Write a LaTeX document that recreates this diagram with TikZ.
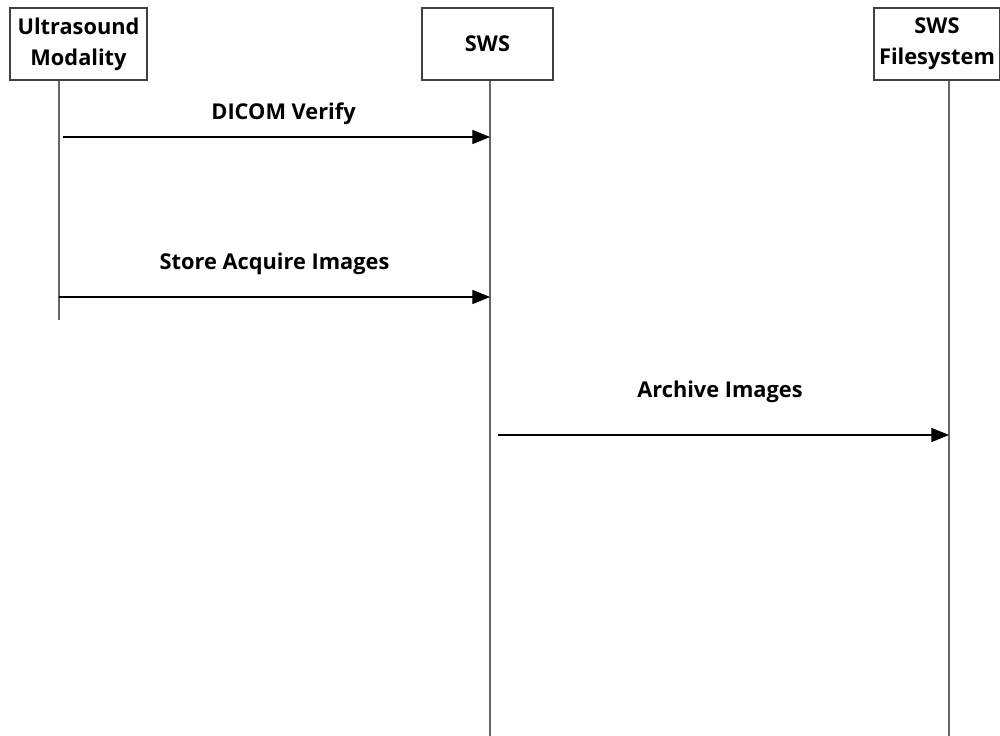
\documentclass[tikz,border=0pt]{standalone}
\usepackage{fontspec}
\setmainfont{Open Sans}
\usetikzlibrary{arrows.meta}
\begin{document}
\begin{tikzpicture}[x=0.02cm, y=-0.02cm, >={Triangle[length=10pt,width=8pt]},
    font=\fontsize{12.4}{17.5}\selectfont\bfseries,
    participant/.style={draw=black!75, line width=0.6pt, align=center, inner sep=0pt},
    lifeline/.style={draw=black!60, line width=0.6pt},
    message/.style={->, line width=0.6pt}]
  \useasboundingbox (0,0) rectangle (1000,736);
  % Participants (boxes)
  \node[participant, minimum width=2.74cm, minimum height=1.44cm] (us) at (78.5,44) {Ultrasound\\Modality};
  \node[participant, minimum width=2.62cm, minimum height=1.44cm] (sws) at (487.5,44) {SWS};
  \node[participant, minimum width=2.52cm, minimum height=1.44cm] (fs) at (937,44) {SWS\\Filesystem};
  % Lifelines (vertical)
  \coordinate (us-end) at (59,320);
  \coordinate (sws-end) at (490,736);
  \coordinate (fs-end) at (949,736);
  \draw[lifeline] (us.south -| us-end) -- (us-end);
  \draw[lifeline] (sws.south -| sws-end) -- (sws-end);
  \draw[lifeline] (fs.south -| fs-end) -- (fs-end);
  % Messages
  \coordinate (verify) at (63,137);
  \coordinate (store) at (59,297);
  \coordinate (archive) at (498,435);
  \draw[message] (verify) -- (verify -| sws-end)
    node[midway, xshift=4pt, yshift=13pt] {DICOM Verify};
  \draw[message] (store) -- (store -| sws-end)
    node[midway, yshift=19pt] {Store Acquire Images};
  \draw[message] (archive) -- (archive -| fs-end)
    node[midway, xshift=-2pt, yshift=24.5pt] {Archive Images};
\end{tikzpicture}
\end{document}
